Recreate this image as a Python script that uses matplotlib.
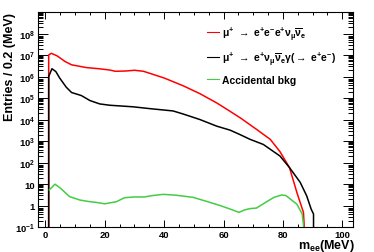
import numpy as np
import matplotlib.pyplot as plt
from matplotlib.ticker import LogLocator, MultipleLocator, FuncFormatter, NullFormatter

# Values (m_ee in MeV, entries per 0.2 MeV)
red_x = [1.1, 1.1, 2.0, 4.0, 6.6, 8.8, 13.8, 18.0, 21.7, 23.5, 27.0, 30.0, 33.0, 35.2,
         40.0, 46.4, 52.0, 57.7, 62.0, 66.0, 71.2, 75.7, 79.0, 82.2, 84.7, 86.9, 88.0]
red_y = [1e-3, 1.0e7, 1.2e7, 9e6, 5e6, 3.5e6, 2.6e6, 2.3e6, 2.0e6, 1.75e6, 1.8e6, 1.95e6, 1.75e6, 1.4e6,
         8.5e5, 3.7e5, 1.6e5, 5.9e4, 2.5e4, 1.1e4, 3.4e3, 1.2e3, 3.2e2, 58, 4, 0.48, 1e-3]

black_x = [1.1, 1.1, 2.2, 3.5, 4.8, 7.0, 8.8, 12.1, 15.0, 18.3, 21.7, 29.5, 35.2, 43.0,
           46.4, 52.0, 57.7, 62.2, 65.5, 68.9, 73.4, 79.0, 82.2, 85.8, 88.0, 89.5, 90.3, 90.3]
black_y = [1e-3, 1e6, 2.3e6, 1.7e6, 8.5e5, 3.2e5, 1.8e5, 1.3e5, 7.6e4, 5.3e4, 4.6e4, 3.9e4, 3.2e4, 2.5e4,
           1.8e4, 1.0e4, 4.9e3, 3.2e3, 2.0e3, 1.2e3, 690, 200, 58, 12, 2.8, 0.68, 0.4, 1e-3]

green_x = [1.3, 3.2, 5.0, 8.1, 11.6, 14.3, 17.0, 20.0, 23.9, 26.6, 30.0, 33.4, 36.0, 39.7,
           44.0, 49.7, 54.0, 58.8, 62.0, 65.2, 67.0, 69.0, 71.1, 74.5, 77.0, 79.6, 81.0, 84.7, 86.5, 88.6]
green_y = [5.3, 9.8, 6.5, 2.6, 1.8, 1.55, 1.4, 1.2, 1.5, 2.3, 2.5, 2.5, 2.9, 3.3,
           3.0, 2.4, 1.6, 1.0, 0.7, 0.48, 0.62, 0.72, 0.76, 1.5, 2.4, 3.1, 2.9, 1.15, 0.4, 1e-3]

labels = [r'$\mu^{+}$ $\rightarrow$ e$^{+}$e$^{-}$e$^{+}$$\nu_{\mu}\overline{\nu}_{e}$',
          r'$\mu^{+}$ $\rightarrow$ e$^{+}$$\nu_{\mu}\overline{\nu}_{e}\gamma$($\rightarrow$ e$^{+}$e$^{-}$)',
          'Accidental bkg']

plt.rcParams['font.family'] = ['Liberation Sans', 'DejaVu Sans']
plt.rcParams['font.weight'] = 'bold'
plt.rcParams['mathtext.fontset'] = 'custom'
plt.rcParams['mathtext.rm'] = 'Liberation Sans'
plt.rcParams['mathtext.it'] = 'Liberation Sans'
plt.rcParams['mathtext.bf'] = 'Liberation Sans:bold'


def log_label(v, pos):
    # ROOT style: 1 and 10 written plainly, the rest as powers of ten, top one left out
    n = int(round(np.log10(v)))
    if n >= 9:
        return ''
    if n == 0:
        return '1'
    if n == 1:
        return '10'
    return r'$\mathbf{10^{%d}}$' % n


def main():
    fig = plt.figure(figsize=(3.74, 2.53), dpi=100)
    ax = fig.add_axes([0.1016, 0.0988, 0.8423, 0.8498])

    ax.plot(red_x, red_y, color='#ff0000', lw=1.1, label=labels[0])
    ax.plot(black_x, black_y, color='black', lw=1.1, label=labels[1])
    ax.plot(green_x, green_y, color='#44cc44', lw=1.1, label=labels[2])

    ax.set_yscale('log')
    ax.set_xlim(-2.5, 103.6)
    ax.set_ylim(0.1, 1e9)

    ax.xaxis.set_major_locator(MultipleLocator(20))
    ax.xaxis.set_minor_locator(MultipleLocator(5))
    ax.yaxis.set_major_locator(LogLocator(base=10, numticks=20))
    ax.yaxis.set_minor_locator(LogLocator(base=10, subs=np.arange(2, 10), numticks=20))
    ax.yaxis.set_major_formatter(FuncFormatter(log_label))
    ax.yaxis.set_minor_formatter(NullFormatter())

    ax.tick_params(which='both', direction='in', top=True, right=True, width=0.7, labelsize=6.8)
    ax.tick_params(axis='x', which='major', length=5, pad=2)
    ax.tick_params(axis='x', which='minor', length=2.5)
    ax.tick_params(axis='y', which='major', length=7, pad=2)
    ax.tick_params(axis='y', which='minor', length=3.5)
    for s in ax.spines.values():
        s.set_linewidth(0.8)

    ax.set_ylabel('Entries / 0.2 (MeV)', fontsize=9, fontweight='bold', loc='top')
    ax.yaxis.set_label_coords(-0.07, 1.0)
    fig.text(0.949, 0.014, r'm$_{ee}$(MeV)', ha='right', va='baseline', fontsize=9, fontweight='bold')

    leg = ax.legend(loc='upper left', bbox_to_anchor=(0.535, 0.945), frameon=False, fontsize=7.5,
                    handlelength=1.2, handletextpad=0.3, labelspacing=0.75,
                    borderpad=0, borderaxespad=0)
    for line in leg.get_lines():
        line.set_linewidth(0.8)

    fig.savefig('out.png', dpi=100)


if __name__ == '__main__':
    main()
